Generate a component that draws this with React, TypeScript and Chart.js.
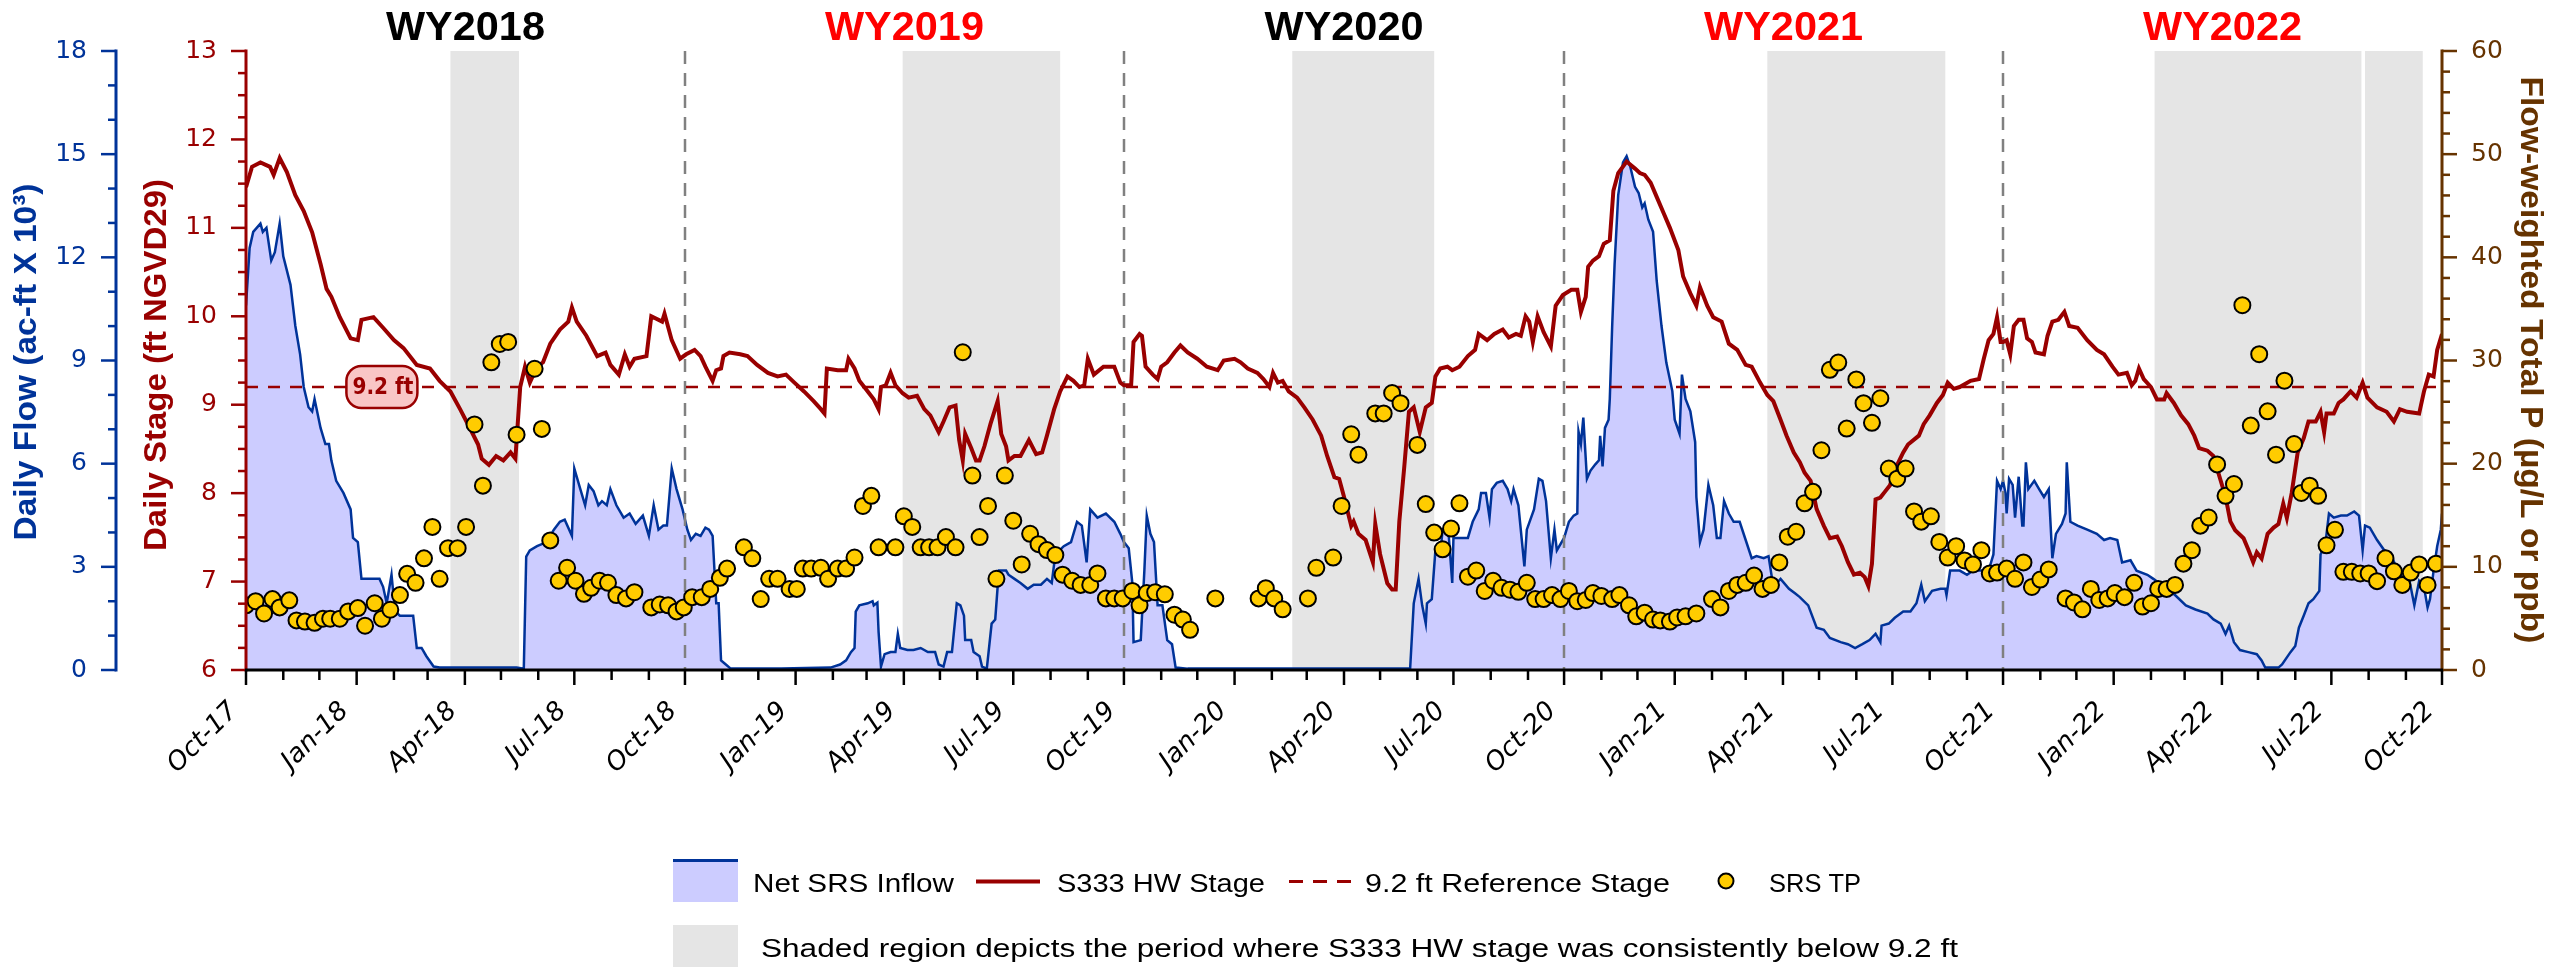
import React, { useEffect, useRef } from 'react';
import { Chart, registerables } from 'chart.js';
Chart.register(...registerables);

// ---------- DATA (x = days since 1 Oct 2017) ----------
const AXIS_MAX_DAY = 1826; // 1 Oct 2022

const flowSeries: [number, number][] = [
  [0,10.6],[3,12.27],[6,12.74],[12,12.98],[14,12.74],[17,12.86],[21,11.91],[24,12.15],[28,12.98],[31,12.03],[37,11.2],[41,10.01],[45,9.18],[48,8.23],[52,7.64],[55,7.52],[57,7.88],[62,7.04],[66,6.57],[69,6.57],[71,6.09],[75,5.5],[81,5.15],[87,4.67],[89,3.84],[93,3.72],[96,2.65],[106,2.65],[111,2.65],[114,2.42],[117,1.94],[121,2.77],[124,1.7],[128,1.58],[139,1.58],[142,0.64],[146,0.64],[150,0.4],[156,0.1],[161,0.07],[189,0.07],[225,0.07],[231,0.04],[233,3.3],[236,3.48],[242,3.6],[250,3.72],[256,4.08],[261,4.31],[265,4.37],[271,3.9],[273,5.86],[278,5.26],[282,4.79],[285,5.38],[289,5.2],[293,4.79],[296,4.91],[300,4.79],[303,5.26],[308,4.79],[314,4.43],[319,4.55],[324,4.25],[330,4.49],[335,3.9],[339,4.79],[343,4.08],[347,4.2],[350,4.2],[354,5.86],[358,5.26],[363,4.67],
  [367,4.08],[370,3.78],[374,3.96],[378,3.9],[382,4.14],[385,4.08],[388,3.9],[391,1.94],[393,1.94],[395,0.28],[399,0.16],[403,0.04],[445,0.04],[486,0.07],[494,0.16],[499,0.28],[503,0.52],[506,0.64],[507,1.7],[510,1.88],[517,1.94],[521,2.0],[522,1.88],[525,1.96],[526,1.11],[528,0.1],[531,0.46],[536,0.52],[540,0.52],[542,1.05],[544,0.64],[550,0.58],[555,0.58],[561,0.64],[567,0.52],[573,0.52],[576,0.16],[580,0.1],[583,0.52],[587,0.52],[591,1.94],[594,1.88],[597,1.58],[598,0.87],[603,0.87],[605,0.52],[610,0.4],[612,0.1],[616,0.04],[620,1.35],[623,1.47],[626,2.89],[632,2.89],[634,2.77],[639,2.65],[644,2.53],[650,2.36],[655,2.48],[661,2.48],[666,2.65],[670,2.53],[673,3.36],[680,3.6],[686,3.72],[691,4.31],[695,4.2],[699,3.13],[702,4.67],[708,4.43],[715,4.55],[722,4.31],[727,3.96],
  [730,3.72],[734,3.54],[737,2.53],[738,0.81],[744,0.87],[747,2.89],[749,4.49],[752,3.96],[755,3.72],[758,1.88],[762,1.88],[766,0.87],[770,0.75],[773,0.07],[783,0.04],[968,0.04],[971,1.94],[975,2.65],[978,1.88],[981,1.35],[982,1.94],[986,2.06],[989,3.48],[993,3.36],[995,4.08],[1000,3.96],[1003,2.53],[1004,3.84],[1010,3.84],[1016,3.84],[1020,4.31],[1025,4.67],[1027,5.15],[1031,5.15],[1034,4.43],[1036,5.26],[1040,5.44],[1045,5.5],[1049,5.26],[1052,4.91],[1054,5.26],[1058,4.79],[1063,3.01],[1065,4.08],[1071,4.67],[1075,5.56],[1078,5.5],[1081,4.91],[1085,3.25],[1088,4.08],[1090,3.48],[1096,3.84],
  [1100,4.31],[1104,4.49],[1107,4.55],[1108,6.93],[1110,6.57],[1112,7.34],[1115,5.56],[1118,5.8],[1122,5.98],[1125,6.1],[1126,6.81],[1128,5.92],[1130,7.04],[1133,7.28],[1134,7.88],[1136,10.01],[1138,11.79],[1141,13.81],[1145,14.76],[1148,14.94],[1151,14.64],[1155,14.05],[1158,13.87],[1161,13.45],[1163,13.57],[1166,13.1],[1170,12.74],[1173,11.32],[1177,10.01],[1181,8.94],[1186,8.11],[1188,7.28],[1192,6.87],[1194,8.59],[1197,7.88],[1201,7.52],[1205,6.63],[1206,5.03],[1209,3.72],[1212,4.08],[1216,5.38],[1220,4.79],[1223,3.84],[1226,3.84],[1229,4.91],[1233,4.55],[1237,4.31],[1242,4.31],[1247,3.78],[1252,3.25],[1256,3.31],[1262,3.25],[1266,3.31],[1270,2.42],[1276,2.65],[1283,2.36],[1288,2.23],[1292,2.12],[1299,1.88],[1306,1.23],[1312,1.17],[1317,0.93],[1326,0.81],[1332,0.75],[1338,0.64],[1344,0.75],[1350,0.87],[1355,1.05],[1359,0.81],[1360,1.29],[1366,1.35],[1371,1.52],[1378,1.7],[1384,1.7],[1389,1.94],[1393,2.48],[1396,2.0],[1402,2.3],[1409,2.36],[1413,2.36],[1414,2.18],[1417,2.89],[1425,2.89],[1431,2.77],[1436,2.89],[1445,2.89],[1450,3.01],[1453,3.36],[1456,5.5],[1459,5.26],
  [1461,5.5],[1463,5.15],[1464,4.55],[1466,5.56],[1469,5.38],[1471,4.43],[1474,5.62],[1477,4.2],[1478,4.2],[1480,6.04],[1482,5.26],[1487,5.5],[1491,5.26],[1495,5.03],[1499,5.26],[1502,3.25],[1505,3.96],[1510,4.25],[1513,4.55],[1514,6.04],[1517,4.31],[1523,4.2],[1531,4.08],[1539,3.96],[1545,3.78],[1550,3.84],[1556,3.78],[1560,3.13],[1567,3.19],[1572,2.89],[1581,2.77],[1586,2.65],[1597,2.36],[1604,2.18],[1613,1.88],[1621,1.76],[1631,1.64],[1636,1.47],[1642,1.35],[1646,1.05],[1649,1.29],[1653,0.81],[1658,0.58],[1665,0.52],[1672,0.46],[1676,0.28],[1679,0.07],[1690,0.07],[1693,0.16],[1700,0.52],[1704,0.7],[1707,1.23],[1711,1.58],[1715,1.94],[1719,2.06],[1724,2.3],[1725,3.36],[1729,3.66],[1732,4.55],[1736,4.43],[1742,4.49],[1747,4.49],[1753,4.61],[1757,4.49],[1760,3.48],[1762,4.2],[1766,4.14],[1772,3.78],[1778,3.48],[1783,3.42],[1789,2.89],[1794,2.65],[1798,2.77],[1803,1.88],[1807,2.59],[1811,2.42],[1814,1.82],[1816,2.06],[1819,2.89],[1822,3.6],[1825,4.08],[1826,4.55]
];

const stageSeries: [number, number][] = [
  [0,11.46],[5,11.69],[12,11.74],[20,11.69],[23,11.6],[28,11.79],[34,11.63],[41,11.37],[48,11.19],[55,10.95],[62,10.59],[67,10.31],[71,10.22],[78,9.99],[87,9.75],[93,9.73],[96,9.96],[106,9.99],[114,9.87],[123,9.73],[131,9.64],[142,9.45],[153,9.41],[161,9.27],[170,9.15],[178,8.95],[186,8.74],[193,8.55],[196,8.39],[202,8.32],[208,8.42],[214,8.37],[220,8.46],[224,8.39],[228,9.2],[232,9.43],[236,9.25],[242,9.43],[247,9.48],[253,9.69],[261,9.85],[268,9.94],[271,10.1],[275,9.94],[283,9.78],[292,9.55],[299,9.59],[303,9.45],[310,9.34],[315,9.57],[319,9.43],[323,9.52],[333,9.55],[337,10.0],[346,9.94],[348,10.03],[354,9.73],[361,9.52],
  [366,9.57],[373,9.62],[378,9.55],[382,9.43],[388,9.27],[391,9.39],[395,9.41],[397,9.55],[402,9.59],[411,9.57],[417,9.55],[425,9.45],[434,9.36],[442,9.32],[449,9.34],[456,9.25],[464,9.15],[472,9.04],[478,8.95],[481,8.9],[483,9.41],[492,9.39],[499,9.39],[501,9.52],[506,9.41],[510,9.27],[517,9.15],[522,9.06],[526,8.95],[528,9.2],[532,9.22],[536,9.36],[540,9.22],[546,9.13],[551,9.08],[558,9.1],[564,8.95],[569,8.88],[576,8.69],[580,8.81],[585,8.97],[590,8.99],[593,8.6],[596,8.37],[598,8.67],[603,8.51],[607,8.37],[610,8.37],[614,8.53],[619,8.78],[625,9.04],[628,8.67],[632,8.53],[634,8.37],[639,8.42],[644,8.42],[651,8.6],[657,8.44],[662,8.46],[666,8.65],[672,8.95],[677,9.15],[683,9.32],[688,9.27],[693,9.2],[697,9.22],[700,9.52],[705,9.34],[713,9.43],[722,9.43],[727,9.25],
  [730,9.22],[736,9.22],[738,9.71],[743,9.8],[745,9.78],[748,9.43],[754,9.34],[758,9.29],[761,9.43],[766,9.48],[772,9.59],[777,9.67],[783,9.59],[791,9.52],[799,9.43],[808,9.39],[813,9.5],[822,9.52],[827,9.48],[833,9.41],[841,9.36],[846,9.29],[851,9.2],[854,9.36],[858,9.25],[862,9.27],[867,9.15],[874,9.08],[880,8.97],[887,8.83],[894,8.65],[899,8.42],[905,8.18],[909,8.16],[913,7.96],[919,7.63],[921,7.68],[925,7.54],[931,7.47],[937,7.22],[939,7.65],[943,7.31],[949,6.98],[953,6.91],[956,6.91],[959,7.68],[963,8.28],[967,8.92],[971,8.97],[976,8.69],[981,8.97],[986,9.02],[989,9.32],[993,9.41],[999,9.43],[1003,9.39],[1009,9.43],[1016,9.55],[1022,9.62],[1025,9.8],[1032,9.73],[1038,9.8],[1045,9.85],[1050,9.76],[1056,9.8],[1060,9.78],[1064,10.0],[1067,9.94],[1070,9.71],[1074,10.0],[1079,9.82],[1085,9.66],[1089,10.12],[1095,10.24],
  [1102,10.3],[1107,10.3],[1110,10.05],[1114,10.22],[1116,10.56],[1120,10.63],[1125,10.68],[1129,10.82],[1134,10.86],[1137,11.42],[1141,11.62],[1148,11.75],[1155,11.67],[1159,11.62],[1163,11.6],[1168,11.51],[1173,11.35],[1179,11.16],[1184,11.0],[1191,10.75],[1195,10.45],[1201,10.26],[1206,10.12],[1209,10.33],[1215,10.12],[1220,9.99],[1227,9.94],[1233,9.69],[1240,9.62],[1247,9.45],[1252,9.43],[1259,9.25],[1265,9.11],[1270,9.04],[1276,8.83],[1281,8.65],[1287,8.46],[1292,8.35],[1296,8.23],[1301,8.14],[1306,7.82],[1312,7.63],[1317,7.49],[1323,7.51],[1327,7.4],[1332,7.22],[1337,7.08],[1342,7.1],[1346,7.05],[1349,6.95],[1352,7.2],[1355,7.93],[1359,7.95],[1363,8.02],[1367,8.09],[1373,8.32],[1378,8.46],[1382,8.55],[1391,8.65],[1395,8.78],[1400,8.88],[1406,9.02],[1411,9.11],[1415,9.25],[1420,9.18],[1425,9.2],[1434,9.27],[1441,9.29],[1445,9.52],[1449,9.73],[1453,9.8],[1456,9.99],[1459,9.71],
  [1461,9.71],[1464,9.73],[1467,9.57],[1470,9.89],[1474,9.96],[1478,9.96],[1481,9.75],[1485,9.71],[1488,9.59],[1495,9.57],[1498,9.78],[1502,9.94],[1507,9.96],[1512,10.05],[1516,9.89],[1523,9.87],[1531,9.73],[1539,9.62],[1545,9.57],[1552,9.43],[1557,9.34],[1564,9.36],[1568,9.22],[1571,9.27],[1574,9.41],[1578,9.29],[1584,9.2],[1589,9.06],[1595,9.06],[1597,9.13],[1603,9.02],[1609,8.88],[1615,8.78],[1620,8.65],[1624,8.51],[1631,8.48],[1636,8.42],[1640,8.23],[1646,7.96],[1650,7.68],[1654,7.58],[1661,7.49],[1665,7.36],[1669,7.22],[1672,7.33],[1676,7.26],[1681,7.54],[1686,7.61],[1690,7.65],[1694,7.88],[1697,7.72],[1701,8.0],[1706,8.46],[1711,8.62],[1715,8.81],[1721,8.81],[1725,8.92],[1728,8.69],[1730,8.9],[1736,8.9],[1740,9.02],[1744,9.06],[1750,9.15],[1755,9.08],[1760,9.25],[1764,9.08],[1772,8.97],[1780,8.92],[1786,8.81],[1791,8.95],[1797,8.92],[1807,8.9],[1811,9.15],[1815,9.34],[1819,9.32],[1822,9.62],[1826,9.8]
];

const tpSeries: [number, number][] = [
  [0,6.27],[8,6.67],[15,5.48],[22,6.87],[28,6.07],[36,6.75],[42,4.81],[49,4.69],[57,4.57],[64,4.97],[70,4.97],[78,4.97],[85,5.68],[93,6.0],[99,4.29],[107,6.47],[113,4.97],[120,5.84],[128,7.26],[134,9.32],[141,8.45],[148,10.82],[155,13.87],[161,8.84],[168,11.81],[176,11.81],[183,13.87],[190,23.8],[197,17.87],[204,29.82],[211,31.6],[218,31.8],[225,22.81],[240,29.2],[246,23.37],[253,12.56],[260,8.65],[267,9.91],[274,8.65],[281,7.38],[287,7.97],[294,8.65],[301,8.45],[308,7.26],[316,6.94],[323,7.54],[337,6.07],[344,6.35],[351,6.27],[358,5.68],
  [364,6.07],[371,7.06],[379,7.06],[386,7.86],[394,8.93],[400,9.83],[414,11.89],[421,10.82],[428,6.87],[435,8.84],[442,8.84],[452,7.86],[458,7.86],[463,9.83],[470,9.83],[478,9.91],[484,8.84],[492,9.83],[499,9.83],[506,10.9],[513,15.9],[520,16.88],[526,11.89],[540,11.89],[547,14.9],[554,13.87],[561,11.89],[568,11.89],[575,11.89],[582,12.88],[590,11.89],[596,30.8],[604,18.85],[610,12.88],[617,15.9],[624,8.84],[631,18.85],[638,14.47],[645,10.23],[652,13.2],[659,12.2],[666,11.62],[673,11.14],[679,9.24],[687,8.65],[694,8.25],[702,8.25],[708,9.36],[715,6.94],[722,6.94],[729,6.94],
  [737,7.66],[743,6.27],[749,7.46],[756,7.54],[764,7.34],[772,5.36],[779,4.89],[785,3.9],[806,6.94],[842,6.94],[848,7.93],[855,6.94],[862,5.88],[883,6.94],[890,9.91],[904,10.9],[911,15.9],[919,22.85],[925,20.87],[939,24.87],[946,24.87],[953,26.85],[960,25.86],[974,21.82],[981,16.08],[988,13.32],[995,11.7],[1002,13.71],[1009,16.16],[1016,9.04],[1023,9.64],[1030,7.66],[1037,8.65],[1044,7.97],[1051,7.78],[1058,7.58],[1065,8.45],[1072,6.87],[1079,6.87],[1086,7.26],[1093,6.87],
  [1100,7.66],[1107,6.67],[1114,6.79],[1120,7.46],[1127,7.18],[1136,6.87],[1142,7.26],[1150,6.27],[1156,5.2],[1163,5.56],[1170,4.89],[1176,4.81],[1184,4.69],[1190,5.09],[1197,5.2],[1206,5.48],[1219,6.87],[1226,6.07],[1233,7.66],[1240,8.25],[1247,8.45],[1254,9.16],[1261,7.86],[1268,8.25],[1275,10.43],[1282,12.92],[1289,13.4],[1296,16.16],[1303,17.27],[1310,21.3],[1317,29.1],[1324,29.8],[1331,23.4],[1339,28.16],[1345,25.86],[1352,23.96],[1359,26.34],[1366,19.53],[1373,18.54],[1380,19.53],[1387,15.37],[1393,14.38],[1401,14.9],[1408,12.41],[1415,10.9],[1422,12.0],[1429,10.62],[1436,10.23],[1443,11.61],[1450,9.36],[1456,9.44],
  [1464,9.83],[1471,8.84],[1478,10.43],[1485,8.05],[1492,8.77],[1499,9.75],[1513,6.94],[1520,6.55],[1527,5.88],[1534,7.86],[1541,6.79],[1548,6.94],[1554,7.46],[1562,7.06],[1570,8.45],[1577,6.15],[1584,6.47],[1590,7.86],[1597,7.86],[1604,8.25],[1611,10.31],[1618,11.61],[1625,13.99],[1632,14.78],[1639,19.93],[1646,16.88],[1653,18.03],[1660,35.36],[1667,23.69],[1674,30.61],[1681,25.07],[1688,20.87],[1695,28.04],[1703,21.9],[1709,17.16],[1716,17.87],[1723,16.88],[1730,12.09],[1737,13.59],[1744,9.52],[1751,9.52],[1758,9.36],[1765,9.36],[1772,8.61],[1779,10.82],[1786,9.56],[1793,8.25],[1800,9.44],[1807,10.23],[1814,8.25],[1821,10.31]
];

const referenceStage = 9.2;
const referenceLabel = '9.2 ft';
const referenceLabelDay = 113;

const shadeStartDay = [170, 546, 870, 1265, 1587, 1762];
const shadeEndDay = [227, 677, 988, 1413, 1759, 1810];

const waterYearLabels = ['WY2018', 'WY2019', 'WY2020', 'WY2021', 'WY2022'];
const waterYearColors = ['#000000', '#ff0000', '#000000', '#ff0000', '#ff0000'];

const flowTicks = [0, 3, 6, 9, 12, 15, 18];
const stageTicks = [6, 7, 8, 9, 10, 11, 12, 13];
const tpTicks = [0, 10, 20, 30, 40, 50, 60];
const monthNames = ['Jan','Feb','Mar','Apr','May','Jun','Jul','Aug','Sep','Oct','Nov','Dec'];

const legendLabels = ['Net SRS Inflow', 'S333 HW Stage', '9.2 ft Reference Stage', 'SRS TP'];
const shadeNote = 'Shaded region depicts the period where S333 HW stage was consistently below 9.2 ft';

// ---------- STYLE ----------
const BLUE = '#003399';
const RED = '#990000';
const BROWN = '#663300';
const FILL = '#ccccff';
const SHADE = '#e5e5e5';
const GOLD = '#ffcc00';
const F_NARROW = '"Liberation Sans Narrow", "Liberation Sans", Arial, sans-serif';
const F_SANS = '"Liberation Sans", Arial, sans-serif';
const F_VER = '"DejaVu Sans", Verdana, sans-serif';

const START = Date.UTC(2017, 9, 1);
const dayOf = (y: number, m: number) => Math.round((Date.UTC(y, m, 1) - START) / 86400000);

function text(ctx: any, s: string, x: number, y: number, o: any) {
  ctx.save();
  ctx.translate(x, y);
  if (o.rotate) ctx.rotate(o.rotate);
  ctx.font = o.font;
  ctx.fillStyle = o.color || '#000';
  ctx.textAlign = o.align || 'left';
  ctx.textBaseline = o.baseline || 'alphabetic';
  if (o.width) {
    const w = ctx.measureText(s).width;
    if (w > 0) ctx.scale(o.width / w, 1);
  }
  ctx.fillText(s, 0, 0);
  ctx.restore();
}

function drawYAxis(ctx: any, scale: any, x: number, top: number, bottom: number, color: string,
  min: number, max: number, minor: number, ticks: number[], side: number) {
  ctx.save();
  ctx.strokeStyle = color;
  ctx.lineWidth = 3;
  ctx.beginPath(); ctx.moveTo(x, top - 1.5); ctx.lineTo(x, bottom + 1.5); ctx.stroke();
  ctx.lineWidth = 2.5;
  const n = Math.round((max - min) / minor);
  for (let i = 0; i <= n; i++) {
    const v = min + i * minor;
    const major = ticks.some(t => Math.abs(t - v) < 1e-6);
    const y = scale.getPixelForValue(v);
    const len = major ? 15 : 8;
    ctx.beginPath(); ctx.moveTo(x, y); ctx.lineTo(x + side * len, y); ctx.stroke();
  }
  ticks.forEach(t => {
    text(ctx, String(t), x + side * 29, scale.getPixelForValue(t), {
      font: '25px ' + F_VER, color, align: side < 0 ? 'right' : 'left', baseline: 'middle'
    });
  });
  ctx.restore();
}

const decor = {
  id: 'decor',
  beforeDatasetsDraw(chart: any) {
    const { ctx, chartArea: a, scales } = chart;
    const xs = scales.x;
    ctx.save();
    ctx.fillStyle = SHADE;
    shadeStartDay.forEach((s, i) => {
      const x0 = xs.getPixelForValue(s), x1 = xs.getPixelForValue(shadeEndDay[i]);
      ctx.fillRect(x0, a.top, x1 - x0, a.bottom - a.top);
    });
    ctx.restore();
  },
  afterDatasetDraw(chart: any, args: any) {
    if (args.index !== 0) return;
    const { ctx, chartArea: a, scales } = chart;
    ctx.save();
    ctx.strokeStyle = '#808080';
    ctx.lineWidth = 2.5;
    ctx.setLineDash([13, 9]);
    [2018, 2019, 2020, 2021].forEach(y => {
      const x = Math.round(scales.x.getPixelForValue(dayOf(y, 9)));
      ctx.beginPath(); ctx.moveTo(x, a.top); ctx.lineTo(x, a.bottom); ctx.stroke();
    });
    ctx.restore();
  },
  afterDatasetsDraw(chart: any) {
    const { ctx, scales } = chart;
    const cx = scales.x.getPixelForValue(referenceLabelDay);
    const cy = scales.yStage.getPixelForValue(referenceStage);
    const w = 71, h = 42, r = 15;
    ctx.save();
    ctx.beginPath();
    ctx.roundRect(cx - w / 2, cy - h / 2, w, h, r);
    ctx.fillStyle = '#f9c6c6';
    ctx.fill();
    ctx.lineWidth = 2.5;
    ctx.strokeStyle = RED;
    ctx.stroke();
    ctx.restore();
    text(ctx, referenceLabel, cx + 1, cy + 1, { font: 'bold 23px ' + F_VER, color: RED, align: 'center', baseline: 'middle', width: 61 });
  },
  afterDraw(chart: any) {
    const { ctx, chartArea: a, scales } = chart;
    const xs = scales.x;
    // y axes
    drawYAxis(ctx, scales.yFlow, 116, a.top, a.bottom, BLUE, 0, 18, 1, flowTicks, -1);
    drawYAxis(ctx, scales.yStage, a.left, a.top, a.bottom, RED, 6, 13, 0.25, stageTicks, -1);
    drawYAxis(ctx, scales.yTP, a.right, a.top, a.bottom, BROWN, 0, 60, 2, tpTicks, 1);
    // x axis
    ctx.save();
    ctx.strokeStyle = '#000';
    ctx.lineWidth = 3;
    ctx.beginPath(); ctx.moveTo(a.left - 1, a.bottom); ctx.lineTo(a.right + 1, a.bottom); ctx.stroke();
    ctx.lineWidth = 2.5;
    for (let i = 0; i <= 60; i++) {
      const m = (9 + i) % 12;
      const y = 2017 + Math.floor((9 + i) / 12);
      const d = dayOf(y, m);
      if (d > AXIS_MAX_DAY) break;
      const x = xs.getPixelForValue(d);
      const major = m % 3 === 0;
      ctx.beginPath(); ctx.moveTo(x, a.bottom); ctx.lineTo(x, a.bottom + (major ? 15 : 10)); ctx.stroke();
      if (major) {
        const lab = monthNames[m] + '-' + String(y).slice(2);
        text(ctx, lab, x - 12, a.bottom + 37, { font: 'italic 26px ' + F_VER, color: '#000', align: 'right', baseline: 'middle', rotate: -Math.PI / 4 });
      }
    }
    ctx.restore();
    // axis titles
    text(ctx, 'Daily Flow (ac-ft X 10\u00B3)', 27, 362, { font: 'bold 32px ' + F_NARROW, color: BLUE, align: 'center', baseline: 'middle', rotate: -Math.PI / 2, width: 357 });
    text(ctx, 'Daily Stage (ft NGVD29)', 157, 365, { font: 'bold 32px ' + F_NARROW, color: RED, align: 'center', baseline: 'middle', rotate: -Math.PI / 2, width: 372 });
    text(ctx, 'Flow-weighted Total P (\u00B5g/L or ppb)', 2530, 360, { font: 'bold 32px ' + F_NARROW, color: BROWN, align: 'center', baseline: 'middle', rotate: Math.PI / 2, width: 567 });
    // water year labels
    waterYearLabels.forEach((lab, i) => {
      const mid = (dayOf(2017 + i, 9) + dayOf(2018 + i, 9)) / 2;
      text(ctx, lab, xs.getPixelForValue(mid), 40, { font: 'bold 41px ' + F_SANS, color: waterYearColors[i], align: 'center', width: 159 });
    });
    // legend
    ctx.save();
    ctx.fillStyle = FILL; ctx.fillRect(673, 860, 65, 42);
    ctx.fillStyle = BLUE; ctx.fillRect(673, 859, 65, 3);
    ctx.strokeStyle = RED; ctx.lineWidth = 4;
    ctx.beginPath(); ctx.moveTo(976, 881.5); ctx.lineTo(1040, 881.5); ctx.stroke();
    ctx.lineWidth = 3; ctx.setLineDash([14, 10]);
    ctx.beginPath(); ctx.moveTo(1289, 881.5); ctx.lineTo(1351, 881.5); ctx.stroke();
    ctx.setLineDash([]);
    ctx.beginPath(); ctx.arc(1726, 881, 7.5, 0, Math.PI * 2);
    ctx.fillStyle = GOLD; ctx.fill(); ctx.lineWidth = 2; ctx.strokeStyle = '#000'; ctx.stroke();
    ctx.fillStyle = SHADE; ctx.fillRect(673, 925, 65, 42);
    ctx.restore();
    const lf = '26px ' + F_NARROW;
    text(ctx, legendLabels[0], 753, 892, { font: lf, width: 201 });
    text(ctx, legendLabels[1], 1057, 892, { font: lf, width: 208 });
    text(ctx, legendLabels[2], 1365, 892, { font: lf, width: 305 });
    text(ctx, legendLabels[3], 1769, 892, { font: lf, width: 92 });
    text(ctx, shadeNote, 761, 957, { font: lf, width: 1197 });
  }
};

const toXY = (s: [number, number][]) => s.map(([x, y]) => ({ x, y }));

export default function App() {
  const ref = useRef<HTMLCanvasElement>(null);
  useEffect(() => {
    document.body.style.margin = '0';
    const canvas = ref.current!;
    const chart = new Chart(canvas, {
      type: 'line',
      data: {
        datasets: [
          { label: legendLabels[0], data: toXY(flowSeries), yAxisID: 'yFlow', borderColor: BLUE, borderWidth: 2.5, backgroundColor: FILL, fill: 'origin', pointRadius: 0, order: 4 },
          { label: legendLabels[2], data: [{ x: 0, y: referenceStage }, { x: AXIS_MAX_DAY, y: referenceStage }], yAxisID: 'yStage', borderColor: RED, borderWidth: 2.5, borderDash: [12, 10], pointRadius: 0, fill: false, order: 3 },
          { label: legendLabels[1], data: toXY(stageSeries), yAxisID: 'yStage', borderColor: RED, borderWidth: 4, pointRadius: 0, fill: false, order: 2 },
          { label: legendLabels[3], data: toXY(tpSeries), yAxisID: 'yTP', showLine: false, pointRadius: 8, pointBackgroundColor: GOLD, pointBorderColor: '#000', pointBorderWidth: 2, backgroundColor: GOLD, borderColor: '#000', order: 1 }
        ] as any
      },
      options: {
        responsive: false,
        maintainAspectRatio: false,
        animation: false,
        events: [],
        layout: { autoPadding: false, padding: { left: 246, right: 112, top: 51, bottom: 300 } },
        plugins: { legend: { display: false }, title: { display: false }, tooltip: { enabled: false } },
        scales: {
          x: { type: 'linear', min: 0, max: AXIS_MAX_DAY, display: false },
          yFlow: { type: 'linear', position: 'left', min: 0, max: 18, display: false },
          yStage: { type: 'linear', position: 'left', min: 6, max: 13, display: false },
          yTP: { type: 'linear', position: 'right', min: 0, max: 60, display: false }
        }
      } as any,
      plugins: [decor as any]
    });
    return () => chart.destroy();
  }, []);
  return (
    <canvas ref={ref} width={2554} height={970} style={{ display: 'block', width: '2554px', height: '970px' }} />
  );
}
